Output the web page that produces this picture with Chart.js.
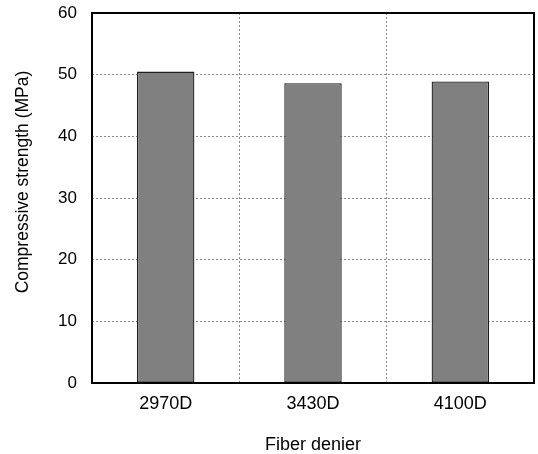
<!DOCTYPE html>
<html>
<head>
<meta charset="utf-8">
<script src="https://cdn.jsdelivr.net/npm/chart.js@4"></script>
<style>
  html, body { margin: 0; padding: 0; background: #fff; }
  #wrap { width: 538px; height: 454px; position: relative; }
</style>
</head>
<body>
<div id="wrap"><canvas id="chart"></canvas></div>
<script>
// ── Data ──────────────────────────────────────────────────────
const categories = ['2970D', '3430D', '4100D'];
const strength = [50.5, 48.6, 48.9];
const yTicks = [0, 10, 20, 30, 40, 50, 60];
const yTitle = 'Compressive strength (MPa)';
const xTitle = 'Fiber denier';

const FONT = 'Liberation Sans, Arial, sans-serif';

// frame round the plot area + y title (sits a bit above centre in the original)
const framePlugin = {
  id: 'frame',
  afterDatasetsDraw(chart) {
    const { ctx, chartArea: a } = chart;
    ctx.save();
    ctx.strokeStyle = '#000';
    ctx.lineWidth = 2;
    ctx.strokeRect(a.left, a.top, a.right - a.left, a.bottom - a.top);

    ctx.translate(23, 182);
    ctx.rotate(-Math.PI / 2);
    ctx.fillStyle = '#000';
    ctx.font = `17.5px ${FONT}`;
    ctx.textAlign = 'center';
    ctx.textBaseline = 'middle';
    ctx.fillText(yTitle, 0, 0);
    ctx.restore();
  },
};

new Chart(document.getElementById('chart'), {
  type: 'bar',
  data: {
    labels: categories,
    datasets: [{
      data: strength,
      backgroundColor: '#808080',
      borderColor: '#1e1e1e',
      borderWidth: 1.3,
      borderSkipped: false,
      barPercentage: 0.39,
      categoryPercentage: 1,
    }],
  },
  options: {
    responsive: true, maintainAspectRatio: false,
    animation: false,
    layout: { padding: { left: 0, right: 4, top: 13, bottom: 0 } },
    plugins: { legend: { display: false }, tooltip: { enabled: false } },
    scales: {
      x: {
        grid: { color: '#8a8a8a', lineWidth: 1, drawTicks: false },
        border: { display: false, dash: [2, 2] },
        ticks: { color: '#000', padding: 10, font: { family: FONT, size: 18 } },
        title: { display: true, text: xTitle, color: '#000', padding: { top: 4, bottom: 0 }, font: { family: FONT, size: 18, lineHeight: 1.0 } },
        afterFit: (s) => { s.height = 454 - 383; s.paddingLeft = 0; s.paddingRight = 0; },
      },
      y: {
        min: 0, max: 60,
        afterBuildTicks: (s) => { s.ticks = yTicks.map(v => ({ value: v })); },
        grid: { color: '#8a8a8a', lineWidth: 1, drawTicks: false },
        border: { display: false, dash: [2, 2] },
        ticks: { color: '#000', padding: 15, font: { family: FONT, size: 17 } },
        title: { display: false },
        afterFit: (s) => { s.width = 92; s.paddingTop = 0; s.paddingBottom = 0; },
      },
    },
  },
  plugins: [framePlugin],
});
</script>
</body>
</html>
